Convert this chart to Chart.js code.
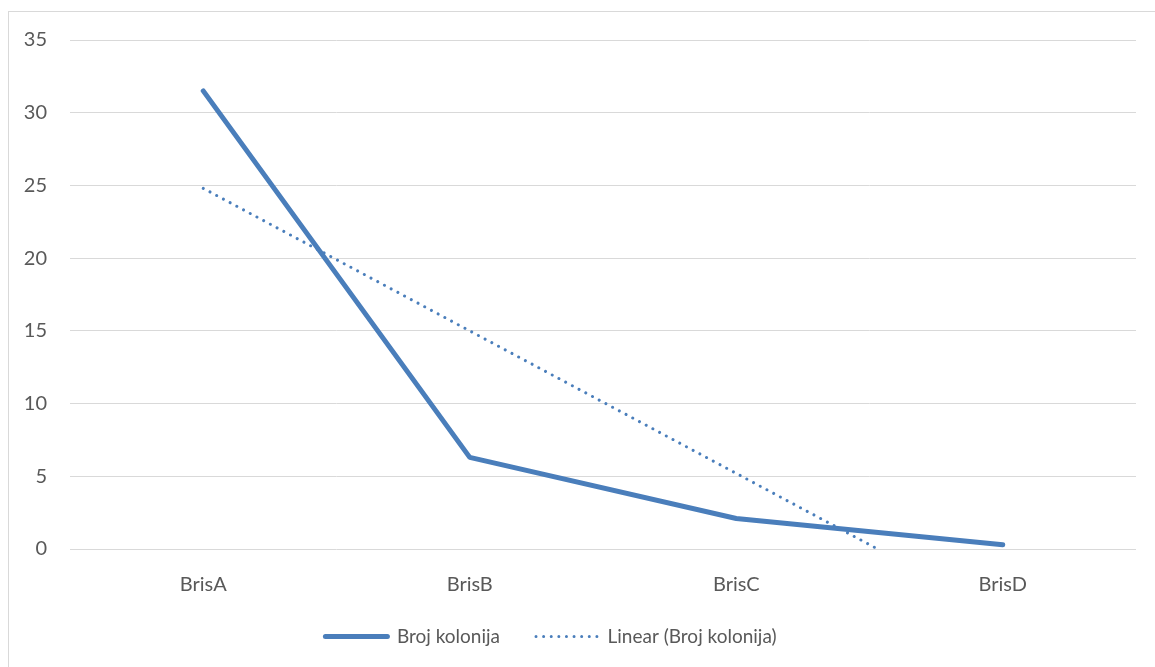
<html lang="en">
<head>
    <meta charset="UTF-8">
    <title>Broj kolonija</title>
    <script src="https://cdn.jsdelivr.net/npm/chart.js@4.4.0"></script>
    <style>
        body { margin: 0; background: #fff; }
        #wrap { width: 1155px; height: 667px; position: relative; }
    </style>
</head>
<body>
    <div id="wrap"><canvas id="myChart"></canvas></div>
    <script>
        // values
        const categories = ['BrisA', 'BrisB', 'BrisC', 'BrisD'];
        const brojKolonija = [31.5, 6.3, 2.1, 0.3];
        const linearTrend = [24.8, 15.0, 5.2, -4.6]; // Excel linear trendline, clipped at 0
        const yTicks = [0, 5, 10, 15, 20, 25, 30, 35];

        const blue = '#4a7ebb';
        const textColor = '#595959';
        const gridColor = '#d9d9d9';

        // light frame round the chart, like the Excel chart border
        const framePlugin = {
            id: 'frame',
            beforeDraw(chart) {
                const c = chart.ctx;
                c.save();
                c.fillStyle = '#fff';
                c.fillRect(0, 0, chart.width, chart.height);
                c.strokeStyle = gridColor;
                c.lineWidth = 1;
                c.strokeRect(8.5, 11.5, chart.width + 20, chart.height + 20);
                c.restore();
            },
            afterLayout(chart) {
                // nudge the legend: Excel puts it a bit left and higher
                const lg = chart.legend;
                lg.left -= 17;
                lg.right -= 17;
                lg.top -= 11;
                lg.bottom -= 11;
            }
        };

        const ctx = document.getElementById('myChart').getContext('2d');
        const myChart = new Chart(ctx, {
            type: 'line',
            data: {
                labels: categories,
                datasets: [{
                    label: 'Broj kolonija',
                    data: brojKolonija,
                    borderColor: blue,
                    backgroundColor: blue,
                    borderWidth: 5,
                    borderCapStyle: 'round',
                    borderJoinStyle: 'round',
                    pointRadius: 0,
                    tension: 0,
                    fill: false
                }, {
                    label: 'Linear (Broj kolonija)',
                    data: linearTrend,
                    borderColor: blue,
                    backgroundColor: blue,
                    borderWidth: 3,
                    borderDash: [0.01, 7.6],
                    borderCapStyle: 'round',
                    pointRadius: 0,
                    tension: 0,
                    fill: false,
                    clip: 0
                }]
            },
            options: {
                responsive: true,
                maintainAspectRatio: false,
                animation: false,
                events: [],
                layout: {
                    padding: { left: 0, top: 40, right: 19, bottom: 0 }
                },
                scales: {
                    x: {
                        offset: true,
                        grid: { display: false },
                        border: { display: false },
                        ticks: {
                            color: textColor,
                            font: { family: 'Lato', size: 20 },
                            padding: 16,
                            maxRotation: 0
                        },
                        afterFit(scale) { scale.height = 53; }
                    },
                    y: {
                        min: 0,
                        max: 35,
                        afterBuildTicks(scale) {
                            scale.ticks = yTicks.map(v => ({ value: v }));
                        },
                        grid: { color: gridColor, lineWidth: 1, drawTicks: false },
                        border: { display: false },
                        ticks: {
                            color: textColor,
                            font: { family: 'Lato', size: 20 },
                            padding: 23
                        },
                        afterFit(scale) { scale.width = 70; }
                    }
                },
                plugins: {
                    tooltip: { enabled: false },
                    legend: {
                        position: 'bottom',
                        labels: {
                            usePointStyle: true,
                            pointStyle: 'line',
                            pointStyleWidth: 62,
                            boxHeight: 10,
                            color: textColor,
                            font: { family: 'Lato', size: 19 },
                            padding: 36,
                            generateLabels(chart) {
                                const items = Chart.defaults.plugins.legend.labels.generateLabels(chart);
                                return items.map(item => {
                                    const ds = chart.data.datasets[item.datasetIndex];
                                    item.lineWidth = ds.borderWidth;
                                    item.lineDash = ds.borderDash || [];
                                    item.lineCap = ds.borderCapStyle;
                                    item.strokeStyle = ds.borderColor;
                                    return item;
                                });
                            }
                        }
                    }
                }
            },
            plugins: [framePlugin]
        });
    </script>
</body>
</html>
